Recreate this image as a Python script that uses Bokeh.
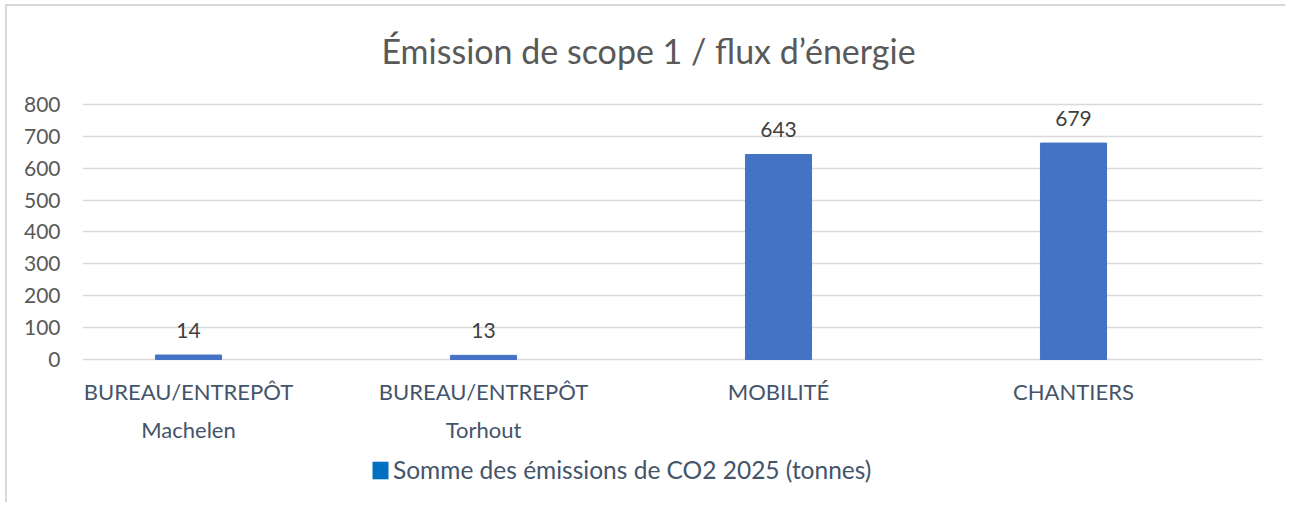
from bokeh.plotting import figure
from bokeh.models import ColumnDataSource, Legend, LegendItem, FixedTicker, Range1d, Label
from bokeh.core.properties import value
from bokeh.transform import dodge
from bokeh.embed import file_html
from bokeh.resources import INLINE

categories = ["BUREAU/ENTREPÔT\nMachelen", "BUREAU/ENTREPÔT\nTorhout", "MOBILITÉ", "CHANTIERS"]
values = [14, 13, 643, 679]
value_labels = ["14", "13", "643", "679"]
y_ticks = [0, 100, 200, 300, 400, 500, 600, 700, 800]
title_text = "Émission de scope 1 / flux d’énergie"
series_name = "Somme des émissions de CO2 2025 (tonnes)"

FONT = "Lato"
SHIFT = -0.1407   # category centres sit left of the plot-area centre, as in the original
BASE = [0] * len(categories)

source = ColumnDataSource(dict(cat=categories, val=values, lab=value_labels, base=BASE))

# the frame spans the whole chart height so that title, category labels and legend
# (drawn as annotations / text) are not clipped; gridlines only at the 0..800 ticks
p = figure(
    x_range=categories, y_range=Range1d(-442.4, 1107.45),
    width=1280, height=498,
    output_backend="svg", toolbar_location=None,
    min_border_left=75, min_border_right=25, min_border_top=0, min_border_bottom=4,
)
p.styles = {"border-left": "2px solid #D9D9D9", "border-top": "2px solid #D9D9D9",
            "margin-left": "5px", "margin-top": "4px"}
p.outline_line_color = None
p.background_fill_color = "white"
p.border_fill_color = "white"

p.add_layout(Label(x=566, y=450, x_units="screen", y_units="screen", text=title_text,
                   text_align="center", text_baseline="middle",
                   text_font=FONT, text_font_size="34px", text_color="#595959"))

xpos = dodge("cat", SHIFT, range=p.x_range)

# legend swatch renderer (zero height, hidden behind the real bars)
swatch = p.vbar(x=xpos, top="base", width=0.224, source=source,
                fill_color="#0070C0", line_color=None)

bars = p.vbar(x=xpos, top="val", width=0.224, source=source,
              fill_color="#4472C4", line_color="#4472C4")

p.text(x=xpos, y="val", text="lab", source=source,
       text_align="center", text_baseline="alphabetic", y_offset=-25,
       text_font=value(FONT), text_font_size="21px", text_color="#404040")

# category labels under the plot area
p.text(x=xpos, y="base", text="cat", source=source,
       text_align="center", text_baseline="top", y_offset=19,
       text_line_height=1.4,
       text_font=value(FONT), text_font_size="22px", text_color="#44546A")

# axes
p.xaxis.visible = False
p.yaxis.ticker = FixedTicker(ticks=y_ticks)
p.yaxis.axis_line_color = None
p.yaxis.major_tick_line_color = None
p.yaxis.minor_tick_line_color = None
p.yaxis.major_label_text_font = FONT
p.yaxis.major_label_text_font_size = "21px"
p.yaxis.major_label_text_color = "#595959"
p.yaxis.major_label_standoff = 16

p.xgrid.grid_line_color = None
p.ygrid.ticker = FixedTicker(ticks=y_ticks)
p.ygrid.grid_line_color = "#D9D9D9"
p.ygrid.grid_line_width = 1.5

# legend
legend = Legend(items=[LegendItem(label=series_name, renderers=[swatch])],
                location=(288, 16), orientation="horizontal",
                glyph_width=20, glyph_height=22, label_standoff=3,
                padding=0, margin=0, border_line_color=None, background_fill_alpha=0,
                label_text_font=FONT, label_text_font_size="24.5px", label_text_color="#44546A")
p.add_layout(legend, "center")

open("out.html", "w").write(file_html(p, INLINE))
